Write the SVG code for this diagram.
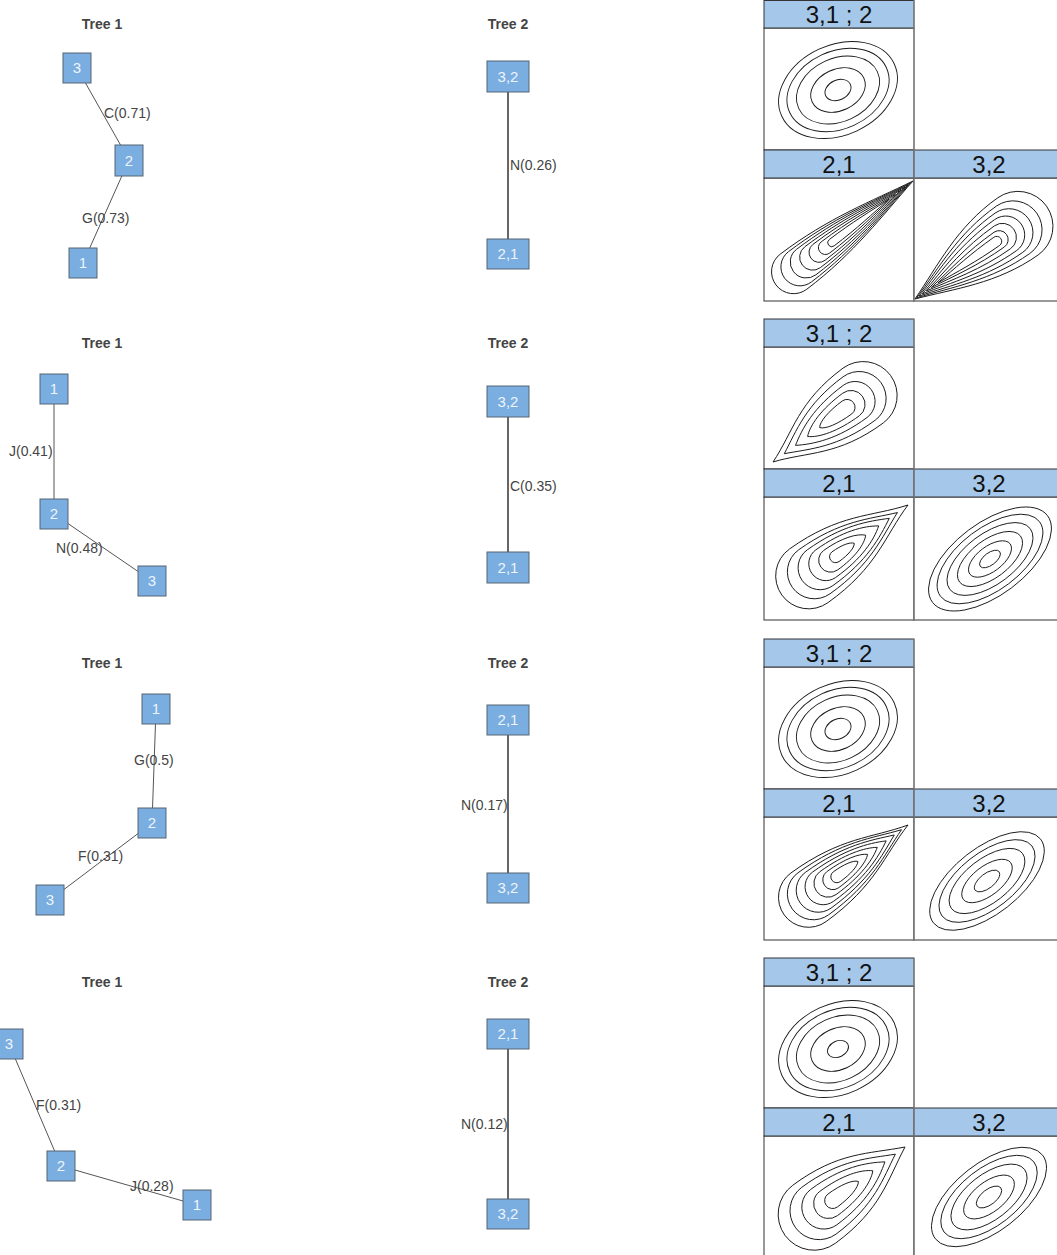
<svg xmlns="http://www.w3.org/2000/svg" width="1057" height="1255" viewBox="0 0 1057 1255">
<style>
.title{font-family:"Liberation Sans",Arial,sans-serif;font-size:14px;font-weight:bold;fill:#444;text-anchor:middle}
.node rect{fill:#7aade0;stroke:#566573;stroke-width:1}
.node text{font-family:"Liberation Sans",Arial,sans-serif;font-size:15px;fill:#eef4fb;text-anchor:middle}
.e1{stroke:#555;stroke-width:1;fill:none}
.e2{stroke:#666;stroke-width:2;fill:none}
.el{font-family:"Liberation Sans",Arial,sans-serif;font-size:14px;fill:#444}
.hdr{fill:#a5c8ea;stroke:#333;stroke-width:1}
.pnl{fill:#fff;stroke:#333;stroke-width:1}
.ht{font-family:"Liberation Sans",Arial,sans-serif;font-size:24px;fill:#111;text-anchor:middle}
.ct{fill:none;stroke:#1a1a1a;stroke-width:0.9}
.div{stroke:#888;stroke-width:1.2}
</style>
<rect x="0" y="0" width="1057" height="1255" fill="#fff"/>

<g id="titles">
<text class="title" x="102" y="29">Tree 1</text>
<text class="title" x="508" y="29">Tree 2</text>
<text class="title" x="102" y="348">Tree 1</text>
<text class="title" x="508" y="348">Tree 2</text>
<text class="title" x="102" y="668">Tree 1</text>
<text class="title" x="508" y="668">Tree 2</text>
<text class="title" x="102" y="987">Tree 1</text>
<text class="title" x="508" y="987">Tree 2</text>
</g>

<g id="connectors">
<line class="e1" x1="77" y1="68" x2="129" y2="160"/>
<line class="e1" x1="129" y1="160" x2="83" y2="263"/>
<line class="e2" x1="508" y1="76" x2="508" y2="254"/>
<line class="e1" x1="54" y1="389" x2="54" y2="514"/>
<line class="e1" x1="54" y1="514" x2="152" y2="581"/>
<line class="e2" x1="508" y1="401" x2="508" y2="567"/>
<line class="e1" x1="156" y1="709" x2="152" y2="823"/>
<line class="e1" x1="152" y1="823" x2="50" y2="900"/>
<line class="e2" x1="508" y1="720" x2="508" y2="888"/>
<line class="e1" x1="9" y1="1044" x2="61" y2="1166"/>
<line class="e1" x1="61" y1="1166" x2="197" y2="1205"/>
<line class="e2" x1="508" y1="1034" x2="508" y2="1214"/>
<text class="el" x="104" y="118">C(0.71)</text>
<text class="el" x="82" y="223">G(0.73)</text>
<text class="el" x="510" y="170">N(0.26)</text>
<text class="el" x="9" y="456">J(0.41)</text>
<text class="el" x="56" y="553">N(0.48)</text>
<text class="el" x="510" y="491">C(0.35)</text>
<text class="el" x="134" y="765">G(0.5)</text>
<text class="el" x="78" y="861">F(0.31)</text>
<text class="el" x="461" y="810">N(0.17)</text>
<text class="el" x="36" y="1110">F(0.31)</text>
<text class="el" x="130" y="1191">J(0.28)</text>
<text class="el" x="461" y="1129">N(0.12)</text>
</g>

<g id="r1-t1-n3" class="node"><rect x="63" y="53" width="28" height="30"/><text x="77" y="73">3</text></g>
<g id="r1-t1-n2" class="node"><rect x="115" y="145" width="28" height="31"/><text x="129" y="166">2</text></g>
<g id="r1-t1-n1" class="node"><rect x="69" y="248" width="28" height="30"/><text x="83" y="268">1</text></g>
<g id="r1-t2-n32" class="node"><rect x="487" y="61" width="42" height="31"/><text x="508" y="82">3,2</text></g>
<g id="r1-t2-n21" class="node"><rect x="487" y="239" width="42" height="30"/><text x="508" y="259">2,1</text></g>

<g id="r2-t1-n1" class="node"><rect x="40" y="374" width="28" height="30"/><text x="54" y="394">1</text></g>
<g id="r2-t1-n2" class="node"><rect x="40" y="499" width="28" height="30"/><text x="54" y="519">2</text></g>
<g id="r2-t1-n3" class="node"><rect x="138" y="566" width="28" height="30"/><text x="152" y="586">3</text></g>
<g id="r2-t2-n32" class="node"><rect x="487" y="386" width="42" height="31"/><text x="508" y="407">3,2</text></g>
<g id="r2-t2-n21" class="node"><rect x="487" y="552" width="42" height="31"/><text x="508" y="573">2,1</text></g>

<g id="r3-t1-n1" class="node"><rect x="142" y="694" width="28" height="30"/><text x="156" y="714">1</text></g>
<g id="r3-t1-n2" class="node"><rect x="138" y="808" width="28" height="30"/><text x="152" y="828">2</text></g>
<g id="r3-t1-n3" class="node"><rect x="36" y="885" width="28" height="30"/><text x="50" y="905">3</text></g>
<g id="r3-t2-n21" class="node"><rect x="487" y="705" width="42" height="30"/><text x="508" y="725">2,1</text></g>
<g id="r3-t2-n32" class="node"><rect x="487" y="873" width="42" height="30"/><text x="508" y="893">3,2</text></g>

<g id="r4-t1-n3" class="node"><rect x="-5" y="1029" width="28" height="30"/><text x="9" y="1049">3</text></g>
<g id="r4-t1-n2" class="node"><rect x="47" y="1151" width="28" height="30"/><text x="61" y="1171">2</text></g>
<g id="r4-t1-n1" class="node"><rect x="183" y="1190" width="28" height="30"/><text x="197" y="1210">1</text></g>
<g id="r4-t2-n21" class="node"><rect x="487" y="1019" width="42" height="30"/><text x="508" y="1039">2,1</text></g>
<g id="r4-t2-n32" class="node"><rect x="487" y="1199" width="42" height="30"/><text x="508" y="1219">3,2</text></g>

<!-- Contour panels row 1 -->
<g id="panels-row1" transform="translate(0,0)">
<rect class="pnl" x="764" y="28" width="150" height="122"/>
<rect class="pnl" x="764" y="178" width="150" height="123"/>
<rect class="pnl" x="914" y="178" width="150" height="123"/>
<rect class="hdr" x="764" y="0.5" width="150" height="27.5"/>
<rect class="hdr" x="764" y="150" width="150" height="28"/>
<rect class="hdr" x="914" y="150" width="150" height="28"/>
<line class="div" x1="914" y1="0" x2="914" y2="301"/>
<text class="ht" x="839" y="23">3,1 ; 2</text>
<text class="ht" x="839" y="173">2,1</text>
<text class="ht" x="989" y="173">3,2</text>
<g transform="translate(838,90) rotate(-25)">
<ellipse class="ct" rx="62" ry="45"/><ellipse class="ct" rx="53.3" ry="38.7"/><ellipse class="ct" rx="43.4" ry="31.5"/><ellipse class="ct" rx="28.5" ry="20.7"/><ellipse class="ct" rx="13.6" ry="9.9"/>
</g>
<g transform="translate(913,181) rotate(142.8)">
<path class="ct" d="M0 0C45 8.8 90 22 150 22A22 22 0 0 0 150 -22C90 -22 45 -8.8 0 0Z"/>
<path class="ct" d="M3 0C44.7 7.6 86.4 19 142 19A19 19 0 0 0 142 -19C86.4 -19 44.7 -7.6 3 0Z"/>
<path class="ct" d="M6 0C44.4 6.4 82.8 16 134 16A16 16 0 0 0 134 -16C82.8 -16 44.4 -6.4 6 0Z"/>
<path class="ct" d="M10 0C44.8 5.2 79.6 13 126 13A13 13 0 0 0 126 -13C79.6 -13 44.8 -5.2 10 0Z"/>
<path class="ct" d="M15 0C45.9 4 76.8 10 118 10A10 10 0 0 0 118 -10C76.8 -10 45.9 -4 15 0Z"/>
<path class="ct" d="M22 0C48.4 2.8 74.8 7 110 7A7 7 0 0 0 110 -7C74.8 -7 48.4 -2.8 22 0Z"/>
<path class="ct" d="M30 0C51.6 1.6 73.2 4 102 4A4 4 0 0 0 102 -4C73.2 -4 51.6 -1.6 30 0Z"/>
</g>
<g transform="translate(915,299) rotate(-35.2)">
<path class="ct" d="M0 0C37.8 14 75.6 35 126 35A35 35 0 0 0 126 -35C75.6 -35 37.8 -14 0 0Z"/>
<path class="ct" d="M2 0C37.4 11.6 72.8 29 120 29A29 29 0 0 0 120 -29C72.8 -29 37.4 -11.6 2 0Z"/>
<path class="ct" d="M5 0C38 9.6 71 24 115 24A24 24 0 0 0 115 -24C71 -24 38 -9.6 5 0Z"/>
<path class="ct" d="M9 0C39.6 7.6 70.2 19 111 19A19 19 0 0 0 111 -19C70.2 -19 39.6 -7.6 9 0Z"/>
<path class="ct" d="M14 0C41.9 5.6 69.8 14 107 14A14 14 0 0 0 107 -14C69.8 -14 41.9 -5.6 14 0Z"/>
<path class="ct" d="M20 0C44.9 3.6 69.8 9 103 9A9 9 0 0 0 103 -9C69.8 -9 44.9 -3.6 20 0Z"/>
<path class="ct" d="M28 0C49.6 2 71.2 5 100 5A5 5 0 0 0 100 -5C71.2 -5 49.6 -2 28 0Z"/>
</g>
</g>

<!-- Contour panels row 2 -->
<g id="panels-row2" transform="translate(0,319)">
<rect class="pnl" x="764" y="28" width="150" height="122"/>
<rect class="pnl" x="764" y="178" width="150" height="123"/>
<rect class="pnl" x="914" y="178" width="150" height="123"/>
<rect class="hdr" x="764" y="0" width="150" height="28"/>
<rect class="hdr" x="764" y="150" width="150" height="28"/>
<rect class="hdr" x="914" y="150" width="150" height="28"/>
<line class="div" x1="914" y1="0" x2="914" y2="301"/>
<text class="ht" x="839" y="23">3,1 ; 2</text>
<text class="ht" x="839" y="173">2,1</text>
<text class="ht" x="989" y="173">3,2</text>
<g transform="translate(773,143) rotate(-36.4)">
<path class="ct" d="M0 0C33.6 11.9 56 34 112 34A34 34 0 0 0 112 -34C56 -34 33.6 -11.9 0 0Z"/>
<path class="ct" d="M14 0C37.25 11.1 60.5 27 107 27A27 27 0 0 0 107 -27C60.5 -27 37.25 -11.1 14 0Z"/>
<path class="ct" d="M28 0C42.8 9.5 65 20 102 20A20 20 0 0 0 102 -20C65 -20 42.8 -9.5 28 0Z"/>
<path class="ct" d="M43 0C51.1 7.5 70 14 97 14A14 14 0 0 0 97 -14C70 -14 51.1 -7.5 43 0Z"/>
<path class="ct" d="M58 0C61.4 4.8 75 8 92 8A8 8 0 0 0 92 -8C75 -8 61.4 -4.8 58 0Z"/>
</g>
<g transform="translate(908,186) rotate(144.5)">
<path class="ct" d="M0 0C36.6 11.55 61 33 122 33A33 33 0 0 0 122 -33C61 -33 36.6 -11.55 0 0Z"/>
<path class="ct" d="M13 0C39.5 10.8 64 27 115 27A27 27 0 0 0 115 -27C64 -27 39.5 -10.8 13 0Z"/>
<path class="ct" d="M23 0C41.7 9.9 65.5 22 108 22A22 22 0 0 0 108 -22C65.5 -22 41.7 -9.9 23 0Z"/>
<path class="ct" d="M36 0C47.7 8.5 68.5 17 101 17A17 17 0 0 0 101 -17C68.5 -17 47.7 -8.5 36 0Z"/>
<path class="ct" d="M52 0C58 6.6 73.5 12 95 12A12 12 0 0 0 95 -12C73.5 -12 58 -6.6 52 0Z"/>
<path class="ct" d="M66 0C68.3 3.6 77.5 6 89 6A6 6 0 0 0 89 -6C77.5 -6 68.3 -3.6 66 0Z"/>
</g>
<g transform="translate(990,240) rotate(-37)">
<ellipse class="ct" rx="72" ry="36"/><ellipse class="ct" rx="62" ry="31"/><ellipse class="ct" rx="50.4" ry="25.2"/><ellipse class="ct" rx="38.2" ry="19"/><ellipse class="ct" rx="25.2" ry="12.6"/><ellipse class="ct" rx="12.2" ry="6.1"/>
</g>
</g>

<!-- Contour panels row 3 -->
<g id="panels-row3" transform="translate(0,639)">
<rect class="pnl" x="764" y="28" width="150" height="122"/>
<rect class="pnl" x="764" y="178" width="150" height="123"/>
<rect class="pnl" x="914" y="178" width="150" height="123"/>
<rect class="hdr" x="764" y="0" width="150" height="28"/>
<rect class="hdr" x="764" y="150" width="150" height="28"/>
<rect class="hdr" x="914" y="150" width="150" height="28"/>
<line class="div" x1="914" y1="0" x2="914" y2="301"/>
<text class="ht" x="839" y="23">3,1 ; 2</text>
<text class="ht" x="839" y="173">2,1</text>
<text class="ht" x="989" y="173">3,2</text>
<g transform="translate(838,90) rotate(-25)">
<ellipse class="ct" rx="62" ry="45"/><ellipse class="ct" rx="53.3" ry="38.7"/><ellipse class="ct" rx="43.4" ry="31.5"/><ellipse class="ct" rx="28.5" ry="20.7"/><ellipse class="ct" rx="13.6" ry="9.9"/>
</g>
<g transform="translate(908,186) rotate(144)">
<path class="ct" d="M0 0C36.9 10.5 61.5 30 123 30A30 30 0 0 0 123 -30C61.5 -30 36.9 -10.5 0 0Z"/>
<path class="ct" d="M8 0C37.1 10.2 62.5 26 117 26A26 26 0 0 0 117 -26C62.5 -26 37.1 -10.2 8 0Z"/>
<path class="ct" d="M17 0C38.9 9.5 64 22 111 22A22 22 0 0 0 111 -22C64 -22 38.9 -9.5 17 0Z"/>
<path class="ct" d="M27 0C42.6 8.55 66 18 105 18A18 18 0 0 0 105 -18C66 -18 42.6 -8.55 27 0Z"/>
<path class="ct" d="M38 0C48.2 7.2 68.5 14 99 14A14 14 0 0 0 99 -14C68.5 -14 48.2 -7.2 38 0Z"/>
<path class="ct" d="M50 0C55.7 5.6 71.5 10 93 10A10 10 0 0 0 93 -10C71.5 -10 55.7 -5.6 50 0Z"/>
<path class="ct" d="M62 0C64.6 3.6 75 6 88 6A6 6 0 0 0 88 -6C75 -6 64.6 -3.6 62 0Z"/>
</g>
<g transform="translate(987,242) rotate(-38)">
<ellipse class="ct" rx="68" ry="33"/><ellipse class="ct" rx="57" ry="27.7"/><ellipse class="ct" rx="45" ry="21.8"/><ellipse class="ct" rx="30" ry="14.5"/><ellipse class="ct" rx="15" ry="7.3"/>
</g>
</g>

<!-- Contour panels row 4 -->
<g id="panels-row4" transform="translate(0,958)">
<rect class="pnl" x="764" y="28" width="150" height="122"/>
<rect class="pnl" x="764" y="178" width="150" height="123"/>
<rect class="pnl" x="914" y="178" width="150" height="123"/>
<rect class="hdr" x="764" y="0" width="150" height="28"/>
<rect class="hdr" x="764" y="150" width="150" height="28"/>
<rect class="hdr" x="914" y="150" width="150" height="28"/>
<line class="div" x1="914" y1="0" x2="914" y2="301"/>
<text class="ht" x="839" y="23">3,1 ; 2</text>
<text class="ht" x="839" y="173">2,1</text>
<text class="ht" x="989" y="173">3,2</text>
<g transform="translate(838,91) rotate(-25)">
<ellipse class="ct" rx="62" ry="45"/><ellipse class="ct" rx="53.3" ry="38.7"/><ellipse class="ct" rx="43.4" ry="31.5"/><ellipse class="ct" rx="28.5" ry="20.7"/><ellipse class="ct" rx="11" ry="8"/>
</g>
<g transform="translate(905,189) rotate(143.5)">
<path class="ct" d="M0 0C33.9 16.2 56.5 36 113 36A36 36 0 0 0 113 -36C56.5 -36 33.9 -16.2 0 0Z"/>
<path class="ct" d="M12 0C35.75 12 59.5 29 107 29A29 29 0 0 0 107 -29C59.5 -29 35.75 -12 12 0Z"/>
<path class="ct" d="M25 0C40.2 10.45 63 22 101 22A22 22 0 0 0 101 -22C63 -22 40.2 -10.45 25 0Z"/>
<path class="ct" d="M40 0C48.25 8.05 67.5 15 95 15A15 15 0 0 0 95 -15C67.5 -15 48.25 -8.05 40 0Z"/>
<path class="ct" d="M58 0C61.2 4.8 74 8 90 8A8 8 0 0 0 90 -8C74 -8 61.2 -4.8 58 0Z"/>
</g>
<g transform="translate(989,239) rotate(-38)">
<ellipse class="ct" rx="68" ry="34"/><ellipse class="ct" rx="57" ry="28.5"/><ellipse class="ct" rx="45" ry="22.5"/><ellipse class="ct" rx="30" ry="15"/><ellipse class="ct" rx="15" ry="7.5"/>
</g>
</g>
</svg>
